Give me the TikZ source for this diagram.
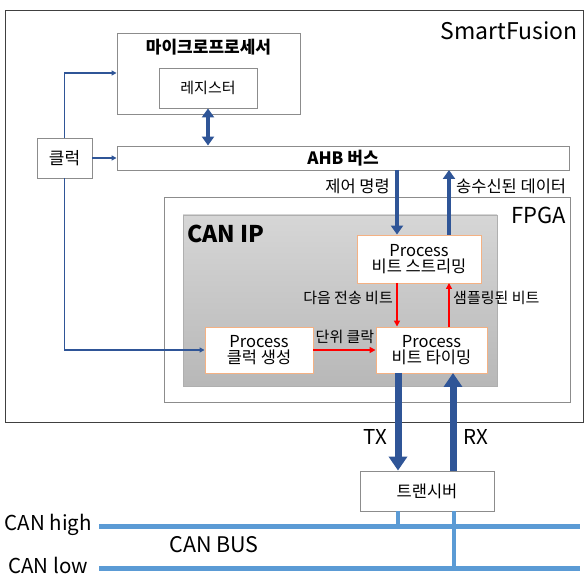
\documentclass[tikz,border=0pt]{standalone}
\usepackage{fontspec}
\setmainfont{Noto Sans CJK KR}
\usetikzlibrary{arrows.meta,calc}
\definecolor{darkblue}{HTML}{2F5597}
\definecolor{busblue}{HTML}{5B9BD5}
\definecolor{boxgrey}{HTML}{8C8C8C}
\definecolor{procedge}{HTML}{F4B183}
\tikzset{
  box/.style={draw=boxgrey, line width=0.9pt, fill=white, inner sep=0pt, align=center},
  proc/.style={draw=procedge, line width=0.9pt, fill=white, inner sep=0pt, align=center, font=\fontsize{16.5}{18}\selectfont},
  bigarrow/.style={draw=darkblue, line width=4pt, -{Triangle[length=9pt,width=12pt]}},
  hugearrow/.style={draw=darkblue, line width=7pt, -{Triangle[length=14pt,width=18pt]}},
  dblarrow/.style={draw=darkblue, line width=4pt, {Triangle[length=9pt,width=12pt]}-{Triangle[length=9pt,width=12pt]}},
  clkline/.style={draw=darkblue, line width=1.6pt, -{Triangle[length=5pt,width=5pt]}},
  redarrow/.style={draw=red, line width=1.7pt, -{Triangle[length=6pt,width=6pt]}},
  busline/.style={draw=busblue, line width=5pt},
  tapline/.style={draw=busblue, line width=4pt},
  lbl/.style={inner sep=1pt, font=\fontsize{16.5}{18}\selectfont},
  smalllbl/.style={inner sep=1pt, font=\fontsize{15}{17}\selectfont},
  biglbl/.style={inner sep=0pt, font=\fontsize{20.5}{23}\selectfont},
}
\begin{document}
\begin{tikzpicture}[x=1pt, y=-1pt]
\useasboundingbox (0,0) rectangle (584,577);

% outer device and FPGA frames
\node[draw=black!75, line width=0.9pt, minimum width=578pt, minimum height=412pt, inner sep=0pt] (sf) at (294,216) {};
\node[anchor=east, font=\fontsize{23}{26}\selectfont, inner sep=0pt] (sflbl) at (578,31) {SmartFusion};

\node[draw=boxgrey, line width=0.9pt, minimum width=406pt, minimum height=205pt, inner sep=0pt] (fpga) at (367,299.5) {};
\node[anchor=east, font=\fontsize{22}{25}\selectfont, inner sep=0pt] (fpgalbl) at (566,215) {FPGA};

% CAN IP block with grey gradient
\node[draw=boxgrey!70, line width=0.8pt, top color=black!16, bottom color=black!28, minimum width=314pt, minimum height=171pt, inner sep=0pt] (canip) at (340,300.5) {};
\node[anchor=west, font=\fontsize{23}{26}\selectfont\bfseries, inner sep=0pt] (caniplbl) at (187,234) {CAN IP};

% processor, register, clock and bus
\node[box, minimum width=183pt, minimum height=81pt] (micro) at (208.5,73.5) {};
\node[font=\fontsize{17}{19}\selectfont\bfseries, inner sep=0pt] (microlbl) at (208.5,47) {마이크로프로세서};
\node[box, minimum width=98pt, minimum height=40pt, font=\fontsize{15}{17}\selectfont] (reg) at (208,88) {레지스터};
\node[box, minimum width=55pt, minimum height=40pt, font=\fontsize{17}{19}\selectfont] (clk) at (64.5,158) {클럭};
\node[box, minimum width=452pt, minimum height=24pt, font=\fontsize{17}{19}\selectfont\bfseries] (ahb) at (343,158) {AHB 버스};

% processes
\node[proc, minimum width=124pt, minimum height=48pt] (bs) at (419,259) {Process\\[-2pt]비트 스트리밍};
\node[proc, minimum width=108pt, minimum height=46pt] (cg) at (259,350) {Process\\[-2pt]클럭 생성};
\node[proc, minimum width=111pt, minimum height=46pt] (bt) at (431.5,350) {Process\\[-2pt]비트 타이밍};

% transceiver
\node[box, minimum width=134pt, minimum height=40pt, font=\fontsize{16.5}{18}\selectfont] (trx) at (427,491) {트랜시버};

% bus <-> register
\draw[dblarrow] (reg.south) -- (reg.south |- ahb.north);

% clock distribution
\draw[clkline] (clk.north) |- (micro.west |- 0,73);
\draw[clkline] (clk.east) -- (ahb.west);
\draw[clkline] (clk.south) |- (cg.west);

% bus <-> bit streaming
\coordinate (cmdtop) at (397,170);
\coordinate (datatop) at (449,170);
\draw[bigarrow] (cmdtop) -- (cmdtop |- bs.north);
\draw[bigarrow] (datatop |- bs.north) -- (datatop);
\node[lbl, anchor=east] (cmdlbl) at (391,186) {제어 명령};
\node[lbl, anchor=west] (datalbl) at (455,186) {송수신된 데이터};

% internal process links
\coordinate (nxt) at (397,283);
\coordinate (smp) at (449,283);
\draw[redarrow] (nxt) -- (nxt |- bt.north);
\draw[redarrow] (smp |- bt.north) -- (smp);
\draw[redarrow] (cg.east) -- (bt.west);
\node[smalllbl, anchor=east] (nxtlbl) at (394,298) {다음 전송 비트};
\node[smalllbl, anchor=west] (smplbl) at (452,298) {샘플링된 비트};
\node[smalllbl] (unitlbl) at (345,337) {단위 클락};

% TX / RX
\coordinate (txx) at (398,373);
\coordinate (rxx) at (453,373);
\draw[hugearrow] (txx) -- (txx |- trx.north);
\draw[hugearrow] (rxx |- trx.north) -- (rxx);
\node[biglbl] (txlbl) at (375,437) {TX};
\node[biglbl] (rxlbl) at (476,437) {RX};

% CAN bus lines
\coordinate (hiL) at (99,526);
\coordinate (hiR) at (580,526);
\coordinate (loL) at (99,568);
\coordinate (loR) at (580,568);
\draw[tapline] (trx.south -| txx) -- (txx |- hiL);
\draw[tapline] (trx.south -| 454,0) -- (454,568);
\draw[busline] (hiL) -- (hiR);
\draw[busline] (loL) -- (loR);
\node[biglbl, anchor=east] (hilbl) at (92,525) {CAN high};
\node[biglbl, anchor=east] (lolbl) at (88,565) {CAN low};
\node[biglbl, font=\fontsize{21.5}{24}\selectfont] (buslbl) at (214,545) {CAN BUS};
\end{tikzpicture}
\end{document}
